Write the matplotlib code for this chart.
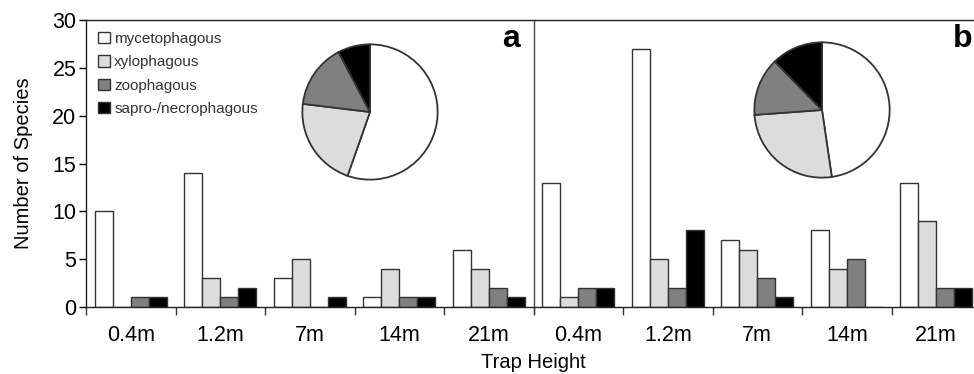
import matplotlib
matplotlib.use("Agg")
import matplotlib.pyplot as plt
from matplotlib.patches import Patch
import numpy as np

plt.rcParams['font.family'] = ['Liberation Sans', 'DejaVu Sans']

heights = ["0.4m", "1.2m", "7m", "14m", "21m"]
categories = ["mycetophagous", "xylophagous", "zoophagous", "sapro-/necrophagous"]
colors = ["#ffffff", "#dcdcdc", "#808080", "#000000"]

# panel a values per category across heights
a_myceto = [10, 14, 3, 1, 6]
a_xylo = [0, 3, 5, 4, 4]
a_zoo = [1, 1, 0, 1, 2]
a_sapro = [1, 2, 1, 1, 1]
# panel b
b_myceto = [13, 27, 7, 8, 13]
b_xylo = [1, 5, 6, 4, 9]
b_zoo = [2, 2, 3, 5, 2]
b_sapro = [2, 8, 1, 0, 2]

pie_a = [36, 14, 10, 5]
pie_b = [31, 17, 9, 8]

W, H = 974, 374
fig = plt.figure(figsize=(W / 100, H / 100), dpi=100)
ax = fig.add_axes([86 / W, 67 / H, 895 / W, 287 / H])

series = [a_myceto + b_myceto, a_xylo + b_xylo, a_zoo + b_zoo, a_sapro + b_sapro]
x = np.arange(10)
bw = 0.2
offs = [-0.3, -0.1, 0.1, 0.3]
for vals, c, o in zip(series, colors, offs):
    ax.bar(x + o, vals, width=bw, color=c, edgecolor="#333333", linewidth=1.0, zorder=2)

ax.set_xlim(-0.5, 9.5)
ax.set_ylim(0, 30)
ax.set_yticks(range(0, 31, 5))
ax.set_xticks(x)
ax.set_xticklabels(heights + heights)
ax.set_xticks(np.arange(-0.5, 10, 1.0), minor=True)
ax.tick_params(axis='x', which='major', length=0, pad=13, labelsize=15.5)
ax.tick_params(axis='x', which='minor', length=6, width=1, direction='out', color='#333333')
ax.tick_params(axis='y', length=5, width=1, direction='out', pad=2, labelsize=15.5)
for s in ['left', 'top', 'bottom']:
    ax.spines[s].set_color('#222222')
    ax.spines[s].set_linewidth(1.0)
ax.spines['right'].set_visible(False)
ax.axvline(4.5, ymin=-0.02, ymax=1, color='#444444', linewidth=1.0, clip_on=False)

ax.set_ylabel("Number of Species", fontsize=14.5, labelpad=14)
ax.set_xlabel("Trap Height", fontsize=14.5, labelpad=5)

ax.text(4.35, 28.0, "a", fontsize=23, fontweight='bold', ha='right', va='center')
ax.text(9.4, 28.0, "b", fontsize=23, fontweight='bold', ha='right', va='center')

handles = [Patch(facecolor=c, edgecolor="#333333", linewidth=1.0) for c in colors]
leg = ax.legend(handles, categories, loc='upper left', bbox_to_anchor=(0.0, 1.0),
                frameon=False, fontsize=11, handlelength=0.75, handleheight=0.75,
                handletextpad=0.3, labelspacing=0.6, borderaxespad=0.4)
for t in leg.get_texts():
    t.set_color('#333333')

def add_pie(cx, cy, r, vals):
    pax = fig.add_axes([(cx - r) / W, (H - cy - r) / H, 2 * r / W, 2 * r / H])
    pax.pie(vals, colors=colors, startangle=90, counterclock=False, radius=1.0,
            wedgeprops=dict(edgecolor="#333333", linewidth=1.3))
    pax.set_xlim(-1.02, 1.02)
    pax.set_ylim(-1.02, 1.02)
    pax.set_aspect('equal')

add_pie(370, 112, 69, pie_a)
add_pie(822, 110, 69, pie_b)

fig.savefig("out.png", dpi=100)
